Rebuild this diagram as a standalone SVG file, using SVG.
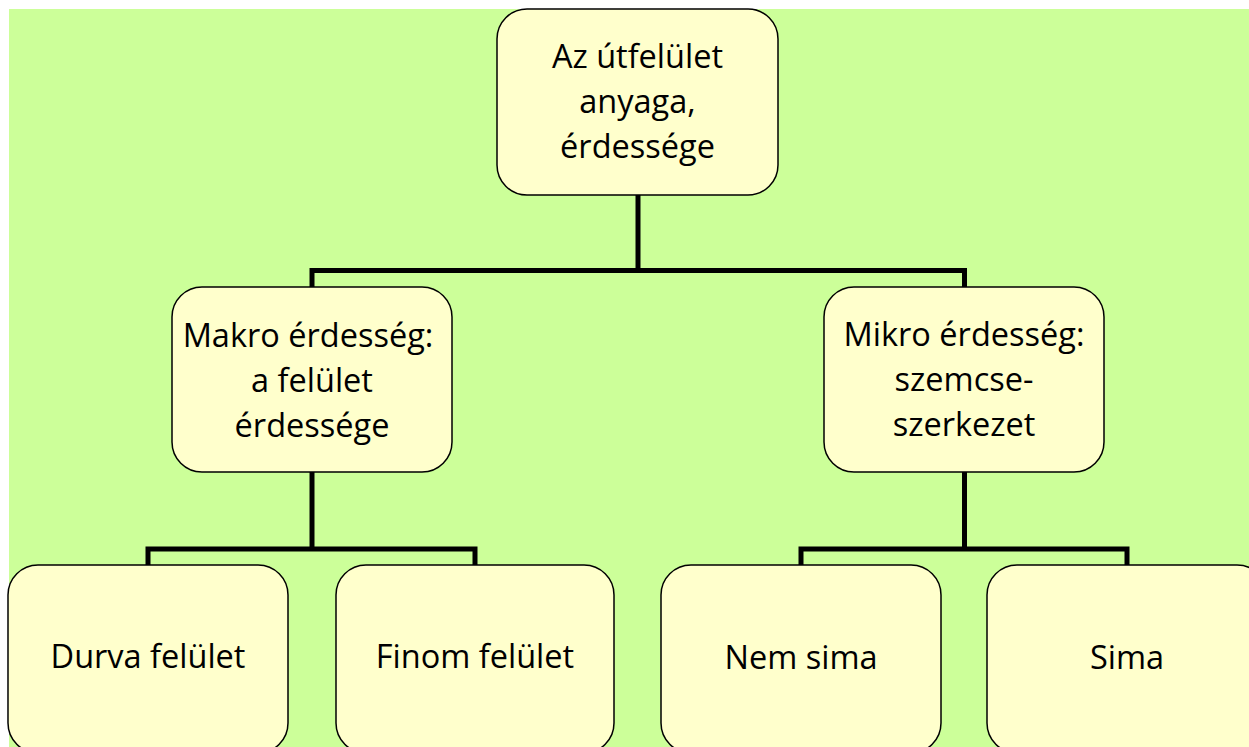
<svg xmlns="http://www.w3.org/2000/svg" width="1249" height="747" viewBox="0 0 1249 747">
<style>
.bg{fill:#CCFF99}
.box{fill:#FFFFCC;stroke:#000;stroke-width:1.5}
.t{font-family:"Open Sans","Noto Sans",sans-serif;font-size:32.5px;fill:#000;text-anchor:middle}
.c{fill:none;stroke:#000;stroke-width:5;stroke-linejoin:miter}
</style>
<rect class="bg" x="9" y="9" width="1240" height="738"/>
<g id="connectors">
<path class="c" d="M638,195 V270.5"/>
<path class="c" d="M312,287 V270.5 H964.5 V287"/>
<path class="c" d="M312,472 V549"/>
<path class="c" d="M148,565 V549 H475 V565"/>
<path class="c" d="M964.5,472 V549"/>
<path class="c" d="M801,565 V549 H1127 V565"/>
</g>
<g id="root">
<rect class="box" x="497" y="9" width="281" height="186" rx="30"/>
<text class="t" x="637.5" y="68">Az útfelület</text>
<text class="t" x="637.5" y="113">anyaga,</text>
<text class="t" x="637.5" y="158">érdessége</text>
</g>
<g id="makro">
<rect class="box" x="172" y="287" width="280" height="185" rx="30"/>
<text class="t" x="308" y="347">Makro érdesség:</text>
<text class="t" x="312" y="392">a felület</text>
<text class="t" x="312" y="437">érdessége</text>
</g>
<g id="mikro">
<rect class="box" x="824" y="287" width="280" height="185" rx="30"/>
<text class="t" x="964" y="346">Mikro érdesség:</text>
<text class="t" x="964" y="391">szemcse-</text>
<text class="t" x="964" y="436">szerkezet</text>
</g>
<g id="durva">
<rect class="box" x="8" y="565" width="280" height="188" rx="30"/>
<text class="t" x="148" y="668">Durva felület</text>
</g>
<g id="finom">
<rect class="box" x="336" y="565" width="278" height="188" rx="30"/>
<text class="t" x="475" y="668">Finom felület</text>
</g>
<g id="nemsima">
<rect class="box" x="661" y="565" width="280" height="188" rx="30"/>
<text class="t" x="801" y="669">Nem sima</text>
</g>
<g id="sima">
<rect class="box" x="987" y="565" width="280" height="188" rx="30"/>
<text class="t" x="1127" y="669">Sima</text>
</g>
</svg>
